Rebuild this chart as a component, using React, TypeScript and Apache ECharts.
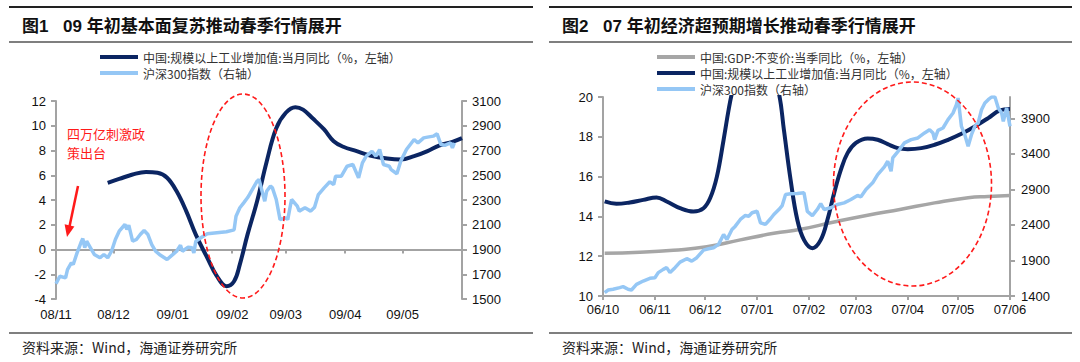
import { useEffect, useRef } from 'react';
import * as echarts from 'echarts';

// ---------- Names ----------
const NAME_IP = '中国:规模以上工业增加值:当月同比（%，左轴）';
const NAME_CSI = '沪深300指数（右轴）';
const NAME_GDP = '中国:GDP:不变价:当季同比（%，左轴）';

// ---------- Chart 1 (2008/11 - 2009/05) ----------
const c1Range = ['2008-11-01', '2009-06-01'];
const c1MonthTicks = ['2008-11-01', '2008-12-01', '2009-01-01', '2009-02-01', '2009-03-01', '2009-04-01', '2009-05-01'];
const c1RightTicks = [1500, 1700, 1900, 2100, 2300, 2500, 2700, 2900, 3100];

const c1IpDates = ['2008-11-28', '2008-12-04', '2008-12-11', '2008-12-18', '2008-12-24', '2008-12-29', '2009-01-03', '2009-01-08', '2009-01-13', '2009-01-19', '2009-01-24', '2009-01-29', '2009-02-02', '2009-02-05', '2009-02-09', '2009-02-14', '2009-02-19', '2009-02-24', '2009-03-01', '2009-03-06', '2009-03-10', '2009-03-15', '2009-03-21', '2009-03-26', '2009-03-31', '2009-04-07', '2009-04-14', '2009-04-23', '2009-04-30', '2009-05-07', '2009-05-14', '2009-05-20', '2009-05-27', '2009-06-01'];
const c1IpValues = [5.39, 5.7, 6.06, 6.27, 6.2, 5.8, 4.7, 3.1, 1.2, -0.67, -2.15, -2.96, -2.56, -1.2, 1.2, 3.9, 7.1, 9.8, 11.05, 11.5, 11.3, 10.6, 9.7, 8.75, 8.3, 7.95, 7.6, 7.35, 7.27, 7.54, 7.95, 8.4, 8.7, 9.0];

const c1CsiDates = ['2008-11-01', '2008-11-03', '2008-11-06', '2008-11-07', '2008-11-09', '2008-11-10', '2008-11-12', '2008-11-14', '2008-11-15', '2008-11-16', '2008-11-17', '2008-11-19', '2008-11-21', '2008-11-24', '2008-11-26', '2008-11-28', '2008-11-30', '2008-12-02', '2008-12-04', '2008-12-07', '2008-12-08', '2008-12-09', '2008-12-11', '2008-12-13', '2008-12-15', '2008-12-17', '2008-12-19', '2008-12-21', '2008-12-23', '2008-12-25', '2008-12-29', '2008-12-31', '2009-01-03', '2009-01-05', '2009-01-06', '2009-01-09', '2009-01-11', '2009-01-12', '2009-01-13', '2009-01-16', '2009-01-19', '2009-01-24', '2009-01-29', '2009-02-02', '2009-02-03', '2009-02-05', '2009-02-07', '2009-02-09', '2009-02-10', '2009-02-12', '2009-02-14', '2009-02-15', '2009-02-18', '2009-02-19', '2009-02-21', '2009-02-22', '2009-02-24', '2009-02-26', '2009-03-01', '2009-03-02', '2009-03-04', '2009-03-07', '2009-03-08', '2009-03-11', '2009-03-14', '2009-03-16', '2009-03-18', '2009-03-21', '2009-03-24', '2009-03-26', '2009-03-27', '2009-03-30', '2009-04-02', '2009-04-05', '2009-04-08', '2009-04-10', '2009-04-12', '2009-04-15', '2009-04-17', '2009-04-19', '2009-04-21', '2009-04-24', '2009-04-25', '2009-04-28', '2009-04-30', '2009-05-03', '2009-05-07', '2009-05-09', '2009-05-12', '2009-05-14', '2009-05-17', '2009-05-19', '2009-05-21', '2009-05-23', '2009-05-26', '2009-05-27', '2009-05-28'];
const c1CsiValues = [1623, 1684, 1671, 1738, 1792, 1779, 1873, 1954, 1989, 1914, 1967, 1914, 1860, 1833, 1860, 1833, 1886, 1981, 2048, 2102, 2062, 2096, 1967, 1981, 2021, 2054, 2021, 1940, 1886, 1860, 1819, 1846, 1886, 1935, 1886, 1919, 1914, 1873, 1967, 1999, 2027, 2035, 2043, 2059, 2169, 2237, 2277, 2318, 2344, 2398, 2452, 2466, 2290, 2371, 2412, 2398, 2304, 2142, 2156, 2142, 2304, 2250, 2210, 2237, 2210, 2242, 2344, 2398, 2447, 2425, 2492, 2492, 2573, 2587, 2479, 2600, 2654, 2694, 2654, 2708, 2587, 2573, 2546, 2512, 2614, 2708, 2789, 2762, 2802, 2808, 2816, 2835, 2748, 2742, 2762, 2722, 2762];

// ---------- Chart 2 (2006/10 - 2007/06) ----------
const c2Range = ['2006-10-01', '2007-06-01'];
const c2MonthTicks = ['2006-10-01', '2006-11-01', '2006-12-01', '2007-01-01', '2007-02-01', '2007-03-01', '2007-04-01', '2007-05-01', '2007-06-01'];
const c2RightTicks = [1400, 1900, 2400, 2900, 3400, 3900];

const c2GdpDates = ['2006-10-02', '2006-10-23', '2006-11-12', '2006-12-02', '2006-12-22', '2007-01-11', '2007-01-27', '2007-02-16', '2007-03-08', '2007-03-28', '2007-04-17', '2007-05-07', '2007-05-19', '2007-06-01'];
const c2GdpValues = [12.15, 12.2, 12.3, 12.47, 12.82, 13.15, 13.35, 13.72, 14.06, 14.36, 14.68, 14.94, 15.0, 15.05];

const c2IpDates = ['2006-10-02', '2006-10-09', '2006-10-17', '2006-10-25', '2006-11-02', '2006-11-08', '2006-11-16', '2006-11-24', '2006-11-30', '2006-12-04', '2006-12-08', '2006-12-12', '2006-12-15', '2006-12-17', '2006-12-31', '2007-01-14', '2007-01-17', '2007-01-21', '2007-01-25', '2007-01-29', '2007-02-03', '2007-02-08', '2007-02-12', '2007-02-16', '2007-02-20', '2007-02-24', '2007-03-01', '2007-03-08', '2007-03-14', '2007-03-20', '2007-03-26', '2007-04-01', '2007-04-09', '2007-04-17', '2007-04-25', '2007-05-03', '2007-05-11', '2007-05-19', '2007-05-26', '2007-06-01'];
const c2IpValues = [14.75, 14.63, 14.7, 14.83, 14.95, 14.75, 14.41, 14.24, 14.41, 14.92, 16.0, 17.85, 19.36, 20.2, 25.0, 20.2, 18.35, 15.84, 13.83, 12.82, 12.4, 12.82, 13.83, 15.17, 16.34, 17.18, 17.69, 17.92, 17.85, 17.63, 17.43, 17.38, 17.43, 17.6, 17.85, 18.15, 18.52, 18.94, 19.33, 19.4];

const c2CsiDates = ['2006-10-02', '2006-10-04', '2006-10-07', '2006-10-11', '2006-10-13', '2006-10-16', '2006-10-18', '2006-10-21', '2006-10-25', '2006-10-29', '2006-11-01', '2006-11-03', '2006-11-06', '2006-11-08', '2006-11-10', '2006-11-13', '2006-11-16', '2006-11-20', '2006-11-23', '2006-11-26', '2006-11-30', '2006-12-03', '2006-12-06', '2006-12-09', '2006-12-12', '2006-12-14', '2006-12-17', '2006-12-19', '2006-12-22', '2006-12-25', '2006-12-27', '2006-12-29', '2007-01-01', '2007-01-03', '2007-01-06', '2007-01-09', '2007-01-11', '2007-01-14', '2007-01-16', '2007-01-18', '2007-01-21', '2007-01-25', '2007-01-29', '2007-01-31', '2007-02-03', '2007-02-06', '2007-02-08', '2007-02-10', '2007-02-14', '2007-02-18', '2007-02-22', '2007-02-26', '2007-03-02', '2007-03-04', '2007-03-07', '2007-03-11', '2007-03-14', '2007-03-18', '2007-03-20', '2007-03-22', '2007-03-23', '2007-03-27', '2007-03-30', '2007-04-03', '2007-04-07', '2007-04-11', '2007-04-14', '2007-04-16', '2007-04-17', '2007-04-19', '2007-04-22', '2007-04-25', '2007-04-28', '2007-04-30', '2007-05-01', '2007-05-03', '2007-05-05', '2007-05-07', '2007-05-09', '2007-05-11', '2007-05-13', '2007-05-15', '2007-05-17', '2007-05-19', '2007-05-21', '2007-05-23', '2007-05-25', '2007-05-27', '2007-05-28', '2007-05-30', '2007-06-01'];
const c2CsiValues = [1448, 1484, 1494, 1518, 1532, 1494, 1484, 1564, 1611, 1649, 1658, 1729, 1775, 1799, 1729, 1799, 1877, 1925, 1891, 1939, 2046, 2065, 2080, 2126, 2266, 2196, 2336, 2383, 2477, 2533, 2523, 2571, 2593, 2430, 2407, 2487, 2547, 2617, 2673, 2828, 2838, 2842, 2852, 2590, 2530, 2620, 2700, 2617, 2641, 2687, 2711, 2758, 2814, 2796, 2898, 2992, 3109, 3217, 3296, 3155, 3343, 3460, 3554, 3600, 3624, 3694, 3740, 3694, 3600, 3731, 3764, 3881, 3975, 4091, 4185, 3787, 3670, 3506, 3670, 3787, 3834, 4021, 4115, 4162, 4200, 4200, 4045, 3975, 3857, 4045, 3787];

// ---------- helpers ----------
const toTime = (s: string) => {
  const [y, m, d] = s.split('-').map(Number);
  return new Date(y, m - 1, d).getTime();
};
const zip = (dates: string[], vals: number[]) => dates.map((d, i) => [toTime(d), vals[i]]);
const fmtMonth = (v: number) => {
  const d = new Date(v);
  return String(d.getFullYear()).slice(2) + '/' + String(d.getMonth() + 1).padStart(2, '0');
};
const fmtPlain = (v: number) => String(v);

const DARK = '#0b2562';
const LIGHT = '#95c7f5';
const GRAY = '#a6a6a6';
const AXIS = '#a3a3a3';
const RED = '#ff1a1a';
const LATIN = '"Liberation Sans", Arial, "Noto Sans CJK SC", sans-serif';
const CJK = '"Noto Sans CJK SC", "Liberation Sans", sans-serif';

const labelStyle = { color: '#111', fontSize: 13, fontFamily: LATIN, formatter: fmtPlain };
const axisLineStyle = { color: AXIS, width: 2 };

export default function App() {
  const ref = useRef<HTMLDivElement>(null);

  useEffect(() => {
    if (!ref.current) return;
    const chart = echarts.init(ref.current, undefined, { renderer: 'svg' });

    const c1Ticks = c1MonthTicks.map(toTime);
    const c2Ticks = c2MonthTicks.map(toTime);

    const option: any = {
      animation: false,
      backgroundColor: '#fff',
      grid: [
        { left: 56, top: 101, width: 406, height: 198, outerBoundsMode: 'none' },
        { left: 603, top: 97, width: 407, height: 199, outerBoundsMode: 'none' },
      ],
      xAxis: [
        {
          gridIndex: 0, type: 'value', min: toTime(c1Range[0]), max: toTime(c1Range[1]),
          axisLine: { show: true, onZero: true, lineStyle: axisLineStyle },
          axisTick: { show: true, customValues: c1Ticks, length: 4, lineStyle: axisLineStyle },
          axisLabel: { show: false }, splitLine: { show: false },
        },
        {
          gridIndex: 0, type: 'value', position: 'bottom', min: toTime(c1Range[0]), max: toTime(c1Range[1]),
          axisLine: { show: false, onZero: false }, axisTick: { show: false },
          axisLabel: { ...labelStyle, customValues: c1Ticks, formatter: fmtMonth, margin: 9 },
          splitLine: { show: false },
        },
        {
          gridIndex: 1, type: 'value', min: toTime(c2Range[0]), max: toTime(c2Range[1]),
          axisLine: { show: true, onZero: false, lineStyle: axisLineStyle },
          axisTick: { show: true, customValues: c2Ticks, length: 4, lineStyle: axisLineStyle },
          axisLabel: { ...labelStyle, customValues: c2Ticks, formatter: fmtMonth, margin: 7 },
          splitLine: { show: false },
        },
      ],
      yAxis: [
        {
          gridIndex: 0, type: 'value', position: 'left', min: -4, max: 12, interval: 2,
          axisLine: { show: true, lineStyle: axisLineStyle },
          axisTick: { show: true, length: 5, lineStyle: axisLineStyle },
          axisLabel: { ...labelStyle, margin: 10 }, splitLine: { show: false },
        },
        {
          gridIndex: 0, type: 'value', position: 'right', min: 1500, max: 3100,
          axisLine: { show: true, lineStyle: axisLineStyle },
          axisTick: { show: true, customValues: c1RightTicks, length: 5, lineStyle: axisLineStyle },
          axisLabel: { ...labelStyle, customValues: c1RightTicks, margin: 10 }, splitLine: { show: false },
        },
        {
          gridIndex: 1, type: 'value', position: 'left', min: 10, max: 20, interval: 2,
          axisLine: { show: true, lineStyle: axisLineStyle },
          axisTick: { show: true, length: 5, lineStyle: axisLineStyle },
          axisLabel: { ...labelStyle, margin: 10 }, splitLine: { show: false },
        },
        {
          gridIndex: 1, type: 'value', position: 'right', min: 1400, max: 4200,
          axisLine: { show: true, lineStyle: axisLineStyle },
          axisTick: { show: true, customValues: c2RightTicks, length: 5, lineStyle: axisLineStyle },
          axisLabel: { ...labelStyle, customValues: c2RightTicks, margin: 11 }, splitLine: { show: false },
        },
      ],
      legend: [
        {
          left: 100, top: 51, orient: 'vertical', icon: 'rect', itemWidth: 38, itemHeight: 4, itemGap: 4,
          padding: 0, selectedMode: false, itemStyle: { borderWidth: 0 },
          textStyle: { fontSize: 12, lineHeight: 12, color: '#333', fontFamily: CJK },
          data: [NAME_IP, NAME_CSI],
        },
        {
          left: 657, top: 51, orient: 'vertical', icon: 'rect', itemWidth: 38, itemHeight: 4, itemGap: 4,
          padding: 0, selectedMode: false, itemStyle: { borderWidth: 0 },
          textStyle: { fontSize: 12, lineHeight: 12, color: '#333', fontFamily: CJK },
          data: [NAME_GDP, NAME_IP, NAME_CSI],
        },
      ],
      series: [
        {
          name: NAME_IP, type: 'line', xAxisIndex: 0, yAxisIndex: 0, data: zip(c1IpDates, c1IpValues),
          smooth: 0.4, showSymbol: false, color: DARK, lineStyle: { color: DARK, width: 4 },
        },
        {
          name: NAME_CSI, type: 'line', xAxisIndex: 0, yAxisIndex: 1, data: zip(c1CsiDates, c1CsiValues),
          showSymbol: false, color: LIGHT, lineStyle: { color: LIGHT, width: 3.5 },
        },
        {
          name: NAME_GDP, type: 'line', xAxisIndex: 2, yAxisIndex: 2, data: zip(c2GdpDates, c2GdpValues),
          smooth: true, showSymbol: false, color: GRAY, lineStyle: { color: GRAY, width: 3.5 },
        },
        {
          name: NAME_IP, type: 'line', xAxisIndex: 2, yAxisIndex: 2, data: zip(c2IpDates, c2IpValues),
          smooth: 0.4, showSymbol: false, color: DARK, lineStyle: { color: DARK, width: 4 },
        },
        {
          name: NAME_CSI, type: 'line', xAxisIndex: 2, yAxisIndex: 3, data: zip(c2CsiDates, c2CsiValues),
          showSymbol: false, color: LIGHT, lineStyle: { color: LIGHT, width: 3.5 },
        },
      ],
      graphic: [
        // frame lines
        { type: 'line', shape: { x1: 9, y1: 7, x2: 533, y2: 7 }, style: { stroke: '#222', lineWidth: 2 } },
        { type: 'line', shape: { x1: 9, y1: 42, x2: 533, y2: 42 }, style: { stroke: '#7f7f7f', lineWidth: 2 } },
        { type: 'line', shape: { x1: 9, y1: 333, x2: 533, y2: 333 }, style: { stroke: '#7f7f7f', lineWidth: 2 } },
        { type: 'line', shape: { x1: 549, y1: 7, x2: 1072, y2: 7 }, style: { stroke: '#222', lineWidth: 2 } },
        { type: 'line', shape: { x1: 549, y1: 42, x2: 1072, y2: 42 }, style: { stroke: '#7f7f7f', lineWidth: 2 } },
        { type: 'line', shape: { x1: 549, y1: 333, x2: 1072, y2: 333 }, style: { stroke: '#7f7f7f', lineWidth: 2 } },
        // titles
        { type: 'text', x: 22, y: 26, style: { text: '图1', fontSize: 17, fontWeight: 'bold', fontFamily: LATIN, fill: '#111', verticalAlign: 'middle' } },
        { type: 'text', x: 63, y: 26, style: { text: '09 年初基本面复苏推动春季行情展开', fontSize: 17, fontWeight: 'bold', fontFamily: LATIN, fill: '#111', verticalAlign: 'middle' } },
        { type: 'text', x: 562, y: 26, style: { text: '图2', fontSize: 17, fontWeight: 'bold', fontFamily: LATIN, fill: '#111', verticalAlign: 'middle' } },
        { type: 'text', x: 603, y: 26, style: { text: '07 年初经济超预期增长推动春季行情展开', fontSize: 17, fontWeight: 'bold', fontFamily: LATIN, fill: '#111', verticalAlign: 'middle' } },
        // sources
        { type: 'text', x: 22, y: 347, style: { text: '资料来源：Wind，海通证券研究所', fontSize: 14, fontFamily: CJK, fill: '#222', verticalAlign: 'middle' } },
        { type: 'text', x: 562, y: 347, style: { text: '资料来源：Wind，海通证券研究所', fontSize: 14, fontFamily: CJK, fill: '#222', verticalAlign: 'middle' } },
        // annotations chart 1
        { type: 'ellipse', shape: { cx: 243, cy: 196, rx: 42, ry: 102 }, style: { fill: 'none', stroke: RED, lineWidth: 1.6, lineDash: [5, 3] }, z: 10 },
        { type: 'text', x: 67, y: 133, style: { text: '四万亿刺激政', fontSize: 13, fontFamily: CJK, fill: RED, verticalAlign: 'middle' } },
        { type: 'text', x: 67, y: 152, style: { text: '策出台', fontSize: 13, fontFamily: CJK, fill: RED, verticalAlign: 'middle' } },
        { type: 'line', shape: { x1: 78, y1: 186, x2: 69.6, y2: 226 }, style: { stroke: RED, lineWidth: 2.5 }, z: 10 },
        { type: 'polygon', shape: { points: [[67, 237], [74.4, 226.4], [64.6, 224.2]] }, style: { fill: RED }, z: 10 },
        // annotations chart 2
        { type: 'ellipse', shape: { cx: 912.5, cy: 184, rx: 79, ry: 102 }, style: { fill: 'none', stroke: RED, lineWidth: 1.6, lineDash: [5, 3] }, z: 10 },
      ],
    };

    chart.setOption(option);
    return () => chart.dispose();
  }, []);

  return (
    <div
      ref={ref}
      style={{ position: 'absolute', left: 0, top: 0, width: 1080, height: 362, background: '#fff' }}
    />
  );
}
